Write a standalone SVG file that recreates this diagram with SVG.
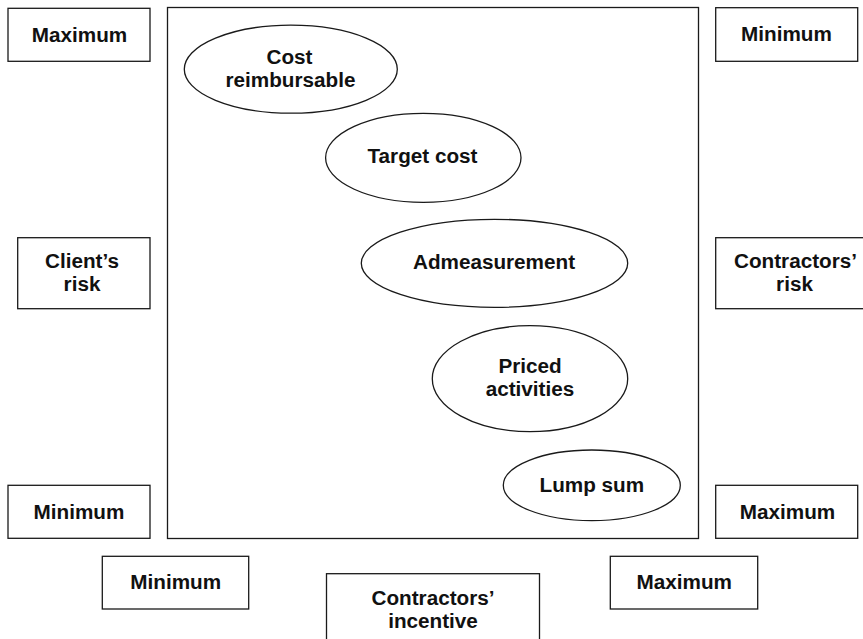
<svg xmlns="http://www.w3.org/2000/svg" width="863" height="639" viewBox="0 0 863 639">
<style>
rect,ellipse{fill:#fff;stroke:#1a1a1a;stroke-width:1.3}
text{font-family:"Liberation Sans",Arial,sans-serif;font-weight:bold;font-size:20.7px;fill:#111;text-anchor:middle}
</style>
<rect x="0" y="0" width="863" height="639" style="stroke:none"/>
<g id="frame"><rect x="167.5" y="7.5" width="531" height="531"/></g>
<g id="connectors"></g>
<g id="client-max"><rect x="8" y="8.3" width="142" height="53"/><text x="79.5" y="42.3">Maximum</text></g>
<g id="client-risk"><rect x="17.7" y="237.7" width="132.3" height="71"/><text x="82" y="268.3">Client’s</text><text x="82" y="291.3">risk</text></g>
<g id="client-min"><rect x="8" y="485.3" width="142" height="53"/><text x="79" y="519">Minimum</text></g>
<g id="contractor-min"><rect x="715.7" y="7.7" width="142" height="53.6"/><text x="786.5" y="41.3">Minimum</text></g>
<g id="contractor-risk"><rect x="715.7" y="237.7" width="160" height="71"/><text x="795.5" y="268.3">Contractors’</text><text x="794.5" y="291.3">risk</text></g>
<g id="contractor-max"><rect x="715.7" y="485.3" width="142" height="53"/><text x="787.5" y="519">Maximum</text></g>
<g id="incentive-min"><rect x="102.3" y="556.3" width="146.4" height="52.7"/><text x="175.7" y="589.3">Minimum</text></g>
<g id="incentive"><rect x="326.5" y="573.7" width="213" height="75"/><text x="433" y="605">Contractors’</text><text x="433" y="628">incentive</text></g>
<g id="incentive-max"><rect x="610.3" y="556.3" width="147.4" height="52.7"/><text x="684.3" y="589.3">Maximum</text></g>
<g id="cost-reimbursable"><ellipse cx="290.8" cy="69.2" rx="106.5" ry="44"/><text x="289.5" y="64">Cost</text><text x="290.5" y="87.3">reimbursable</text></g>
<g id="target-cost"><ellipse cx="423.3" cy="157.8" rx="97.7" ry="44.5"/><text x="422.5" y="162.7">Target cost</text></g>
<g id="admeasurement"><ellipse cx="494.5" cy="263.3" rx="133.2" ry="44"/><text x="494" y="269">Admeasurement</text></g>
<g id="priced-activities"><ellipse cx="530" cy="378.7" rx="97.7" ry="53"/><text x="530" y="372.7">Priced</text><text x="530" y="395.7">activities</text></g>
<g id="lump-sum"><ellipse cx="591.8" cy="485.3" rx="88.5" ry="35.3"/><text x="591.8" y="492">Lump sum</text></g>
</svg>
